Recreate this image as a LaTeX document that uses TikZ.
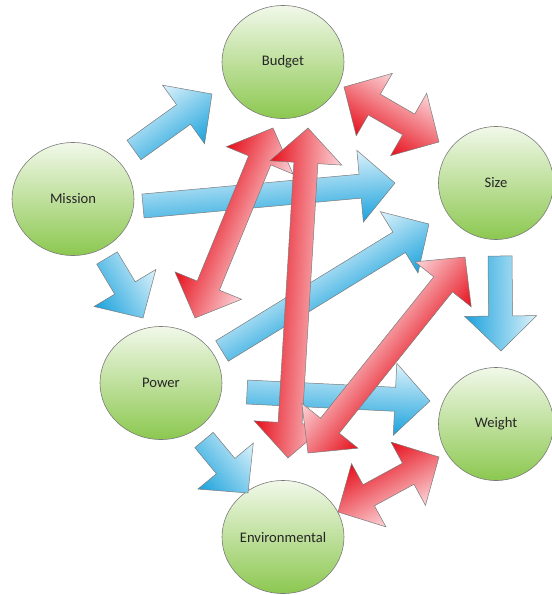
\documentclass[tikz,border=0pt]{standalone}
\usepackage{fontspec}
\setmainfont{Carlito}
\usetikzlibrary{shapes.geometric}

\definecolor{leafhi}{HTML}{F1F8E9}
\definecolor{leaflo}{HTML}{8CC850}
\definecolor{skyhi}{HTML}{DDF2FB}
\definecolor{skylo}{HTML}{1AA2DC}
\definecolor{rosehi}{HTML}{FCD6DA}
\definecolor{roselo}{HTML}{E60F1B}
\definecolor{rim}{HTML}{7A7A7A}

\tikzset{
  factor/.style={ellipse, draw=rim, line width=0.6pt, top color=leafhi,
    bottom color=leaflo, minimum width=122pt, minimum height=113pt,
    inner sep=0pt, text=black!85, font=\fontsize{14.6}{17}\selectfont},
  flow/.style={draw=rim, line width=0.5pt, top color=skyhi, bottom color=skylo},
  trade/.style={draw=rim, line width=0.5pt, top color=rosehi, bottom color=roselo}
}

% fat arrow from tail #2 to tip #3
\newcommand\fatarrow[3]{%
  \pgfpointanchor{#2}{center}\pgfgetlastxy{\fax}{\fay}%
  \pgfpointanchor{#3}{center}\pgfgetlastxy{\fbx}{\fby}%
  \pgfmathsetmacro\falen{veclen(\fbx-\fax,\fby-\fay)}%
  \pgfmathsetmacro\faang{atan2(\fby-\fay,\fbx-\fax)}%
  \begin{scope}[transform canvas={shift={(#2)},rotate=\faang},x=1pt,y=1pt]
    \path[#1] (0,12) -- ({\falen-35},12) -- ({\falen-35},36) -- (\falen,0)
      -- ({\falen-35},-36) -- ({\falen-35},-12) -- (0,-12) -- cycle;
  \end{scope}}

% same, with a head at both ends
\newcommand\twinarrow[3]{%
  \pgfpointanchor{#2}{center}\pgfgetlastxy{\fax}{\fay}%
  \pgfpointanchor{#3}{center}\pgfgetlastxy{\fbx}{\fby}%
  \pgfmathsetmacro\falen{veclen(\fbx-\fax,\fby-\fay)}%
  \pgfmathsetmacro\faang{atan2(\fby-\fay,\fbx-\fax)}%
  \begin{scope}[transform canvas={shift={(#2)},rotate=\faang},x=1pt,y=1pt]
    \path[#1] (0,0) -- (35,36) -- (35,12) -- ({\falen-35},12) -- ({\falen-35},36)
      -- (\falen,0) -- ({\falen-35},-36) -- ({\falen-35},-12) -- (35,-12)
      -- (35,-36) -- cycle;
  \end{scope}}

\begin{document}
\begin{tikzpicture}[x=1pt, y=-1pt]
  \useasboundingbox (0,0) rectangle (552,595);

  \node[factor] (budget) at (283,62) {Budget};
  \node[factor] (mission) at (73,199) {Mission};
  \node[factor, minimum width=115pt] (size) at (496,183) {Size};
  \node[factor] (power) at (161,383) {Power};
  \node[factor, minimum width=115pt] (weight) at (496,424) {Weight};
  \node[factor] (env) at (283,537) {Environmental};

  \coordinate (mb-t) at (134,150);  \coordinate (mb-h) at (212,94);
  \coordinate (ms-t) at (143,206);  \coordinate (ms-h) at (395,183);
  \coordinate (mp-t) at (107,258);  \coordinate (mp-h) at (143,318);
  \coordinate (ps-t) at (222,351);  \coordinate (ps-h) at (429,224);
  \coordinate (pw-t) at (247,392);  \coordinate (pw-h) at (430,401);
  \coordinate (pe-t) at (204,440);  \coordinate (pe-h) at (248,493);
  \coordinate (sw-t) at (500,256);  \coordinate (sw-h) at (501,351);

  \coordinate (bs-a) at (344,87);   \coordinate (bs-b) at (439,142);
  \coordinate (be-a) at (308,128);  \coordinate (be-b) at (288,458);
  \coordinate (bp-a) at (273,128);  \coordinate (bp-b) at (195,318);
  \coordinate (se-a) at (308,453);  \coordinate (se-b) at (465,257);
  \coordinate (we-a) at (439,457);  \coordinate (we-b) at (338,512);

  \fatarrow{flow}{mb-t}{mb-h}
  \fatarrow{flow}{ms-t}{ms-h}
  \fatarrow{flow}{mp-t}{mp-h}
  \fatarrow{flow}{ps-t}{ps-h}
  \fatarrow{flow}{pw-t}{pw-h}
  \fatarrow{flow}{pe-t}{pe-h}
  \fatarrow{flow}{sw-t}{sw-h}

  \twinarrow{trade}{bp-a}{bp-b}
  \twinarrow{trade}{be-a}{be-b}
  \twinarrow{trade}{se-a}{se-b}
  \twinarrow{trade}{bs-a}{bs-b}
  \twinarrow{trade}{we-a}{we-b}
\end{tikzpicture}
\end{document}
